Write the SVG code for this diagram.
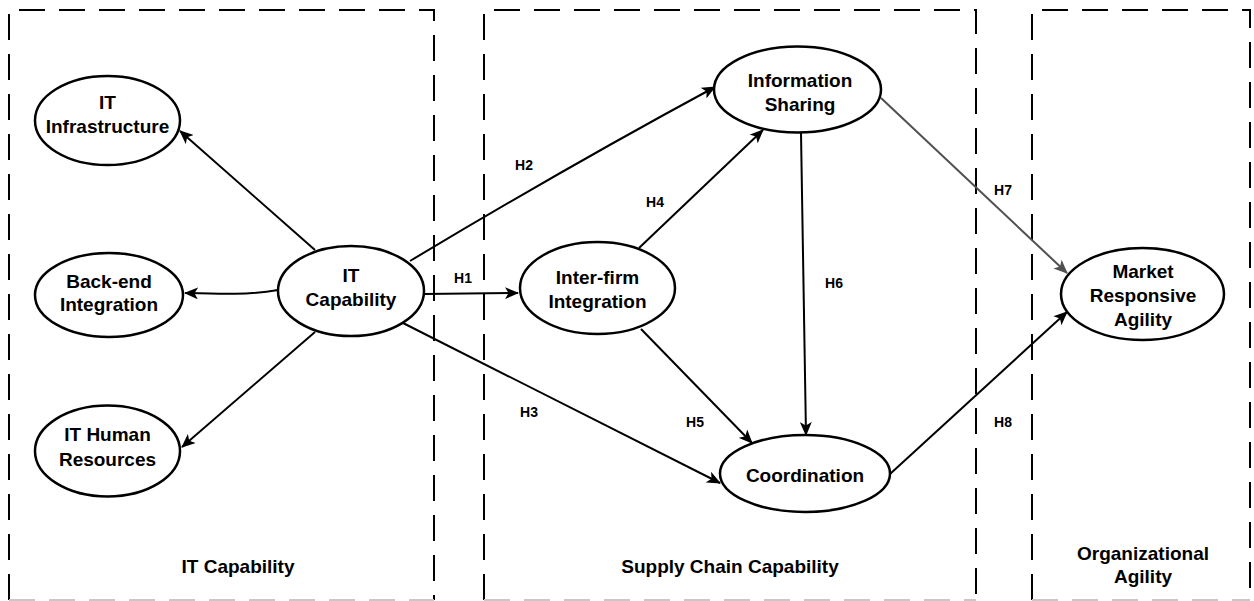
<svg xmlns="http://www.w3.org/2000/svg" width="1254" height="601" viewBox="0 0 1254 601">
  <style>
    .frame { fill: none; stroke: #000; stroke-width: 2; stroke-dasharray: 26 14; }
    .frame-base { fill: none; stroke: #c8c8c8; stroke-width: 2; stroke-dasharray: 26 14; }
    .node ellipse { fill: #fff; stroke: #000; stroke-width: 2.5; }
    .lbl { font-family: "Liberation Sans", Arial, sans-serif; font-weight: bold; font-size: 19px; fill: #000; text-anchor: middle; }
    .hyp { font-family: "Liberation Sans", Arial, sans-serif; font-weight: bold; font-size: 14px; fill: #000; text-anchor: middle; }
    .edge { fill: none; stroke: #000; stroke-width: 2; marker-end: url(#arrow); }
    .edge.grey { stroke: #505050; marker-end: url(#arrow-grey); }
  </style>
  <defs>
    <marker id="arrow" viewBox="0 0 14 12" refX="13" refY="6" markerWidth="14" markerHeight="12" markerUnits="userSpaceOnUse" orient="auto">
      <path d="M0,0 L14,6 L0,12 L3.5,6 z" fill="#000"/>
    </marker>
    <marker id="arrow-grey" viewBox="0 0 14 12" refX="13" refY="6" markerWidth="14" markerHeight="12" markerUnits="userSpaceOnUse" orient="auto">
      <path d="M0,0 L14,6 L0,12 L3.5,6 z" fill="#505050"/>
    </marker>
  </defs>

  <rect width="1254" height="601" fill="#fff"/>

  <!-- capability frames -->
  <g id="frames">
    <path class="frame" d="M9,600 L9,10 L434,10 L434,600"/>
    <path class="frame" d="M484,600 L484,10 L976,10 L976,600"/>
    <path class="frame" d="M1032,600 L1032,10 L1250,10 L1250,600"/>
    <path class="frame-base" d="M9,600 L434,600 M484,600 L976,600 M1032,600 L1250,600"/>
    <text class="lbl" x="238" y="573">IT Capability</text>
    <text class="lbl" x="730" y="573">Supply Chain Capability</text>
    <text class="lbl" x="1143" y="560">Organizational</text>
    <text class="lbl" x="1143" y="583">Agility</text>
  </g>

  <!-- connectors -->
  <g id="connectors">
    <path class="edge" d="M315,250 L180,131"/>
    <path class="edge" d="M278,290 C250,295 220,294 185,293"/>
    <path class="edge" d="M315,332 L182,447"/>
    <path class="edge" d="M410,261 Q565,168 715,87"/>
    <path class="edge" d="M424,294 L518,293"/>
    <path class="edge" d="M403,323 L720,483"/>
    <path class="edge" d="M639,248 L763,130"/>
    <path class="edge" d="M641,329 L752,443"/>
    <path class="edge" d="M801,133 L806,435"/>
    <path class="edge grey" d="M881,98 L1067,273"/>
    <path class="edge" d="M890,474 L1067,312"/>
    <text class="hyp" x="463" y="283">H1</text>
    <text class="hyp" x="524" y="170">H2</text>
    <text class="hyp" x="529" y="417">H3</text>
    <text class="hyp" x="655" y="207">H4</text>
    <text class="hyp" x="695" y="427">H5</text>
    <text class="hyp" x="834" y="288">H6</text>
    <text class="hyp" x="1003" y="195">H7</text>
    <text class="hyp" x="1003" y="427">H8</text>
  </g>

  <!-- nodes -->
  <g id="it-infrastructure" class="node">
    <ellipse cx="107.5" cy="120.5" rx="72.5" ry="44.5"/>
    <text class="lbl" x="107.5" y="109">IT</text>
    <text class="lbl" x="107.5" y="133">Infrastructure</text>
  </g>
  <g id="back-end-integration" class="node">
    <ellipse cx="109" cy="295" rx="74" ry="42"/>
    <text class="lbl" x="109" y="288">Back-end</text>
    <text class="lbl" x="109" y="311">Integration</text>
  </g>
  <g id="it-human-resources" class="node">
    <ellipse cx="107.5" cy="451" rx="72.5" ry="45.5"/>
    <text class="lbl" x="107.5" y="441">IT Human</text>
    <text class="lbl" x="107.5" y="466">Resources</text>
  </g>
  <g id="it-capability" class="node">
    <ellipse cx="351" cy="291" rx="73" ry="45"/>
    <text class="lbl" x="351" y="282">IT</text>
    <text class="lbl" x="351" y="306">Capability</text>
  </g>
  <g id="inter-firm-integration" class="node">
    <ellipse cx="597.5" cy="288" rx="77.5" ry="46"/>
    <text class="lbl" x="597.5" y="284">Inter-firm</text>
    <text class="lbl" x="597.5" y="308">Integration</text>
  </g>
  <g id="information-sharing" class="node">
    <ellipse cx="797.5" cy="89.5" rx="83.5" ry="43"/>
    <text class="lbl" x="800" y="87">Information</text>
    <text class="lbl" x="800" y="111">Sharing</text>
  </g>
  <g id="coordination" class="node">
    <ellipse cx="805" cy="473.5" rx="85" ry="38.5"/>
    <text class="lbl" x="805" y="482">Coordination</text>
  </g>
  <g id="market-responsive-agility" class="node">
    <ellipse cx="1142.5" cy="294" rx="81.5" ry="46"/>
    <text class="lbl" x="1143" y="278">Market</text>
    <text class="lbl" x="1143" y="302">Responsive</text>
    <text class="lbl" x="1143" y="326">Agility</text>
  </g>
</svg>
